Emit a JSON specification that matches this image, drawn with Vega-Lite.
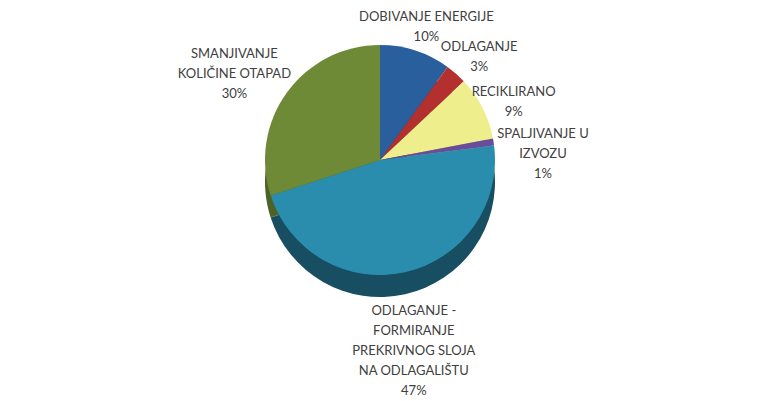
{
  "$schema": "https://vega.github.io/schema/vega-lite/v6.json",
  "autosize": {"type": "none"},
  "width": 760,
  "height": 320,
  "padding": {"left": 0, "top": 0, "right": 22, "bottom": 81},
  "background": "white",
  "view": {"stroke": null},
  "data": {
    "values": [
      {"k": 1, "cat": "DOBIVANJE ENERGIJE", "label": "DOBIVANJE ENERGIJE\n10%", "pct": 10},
      {"k": 2, "cat": "ODLAGANJE", "label": "ODLAGANJE\n3%", "pct": 3},
      {"k": 3, "cat": "RECIKLIRANO", "label": "RECIKLIRANO\n9%", "pct": 9},
      {"k": 4, "cat": "SPALJIVANJE U IZVOZU", "label": "SPALJIVANJE U\nIZVOZU\n1%", "pct": 1},
      {"k": 5, "cat": "ODLAGANJE - FORMIRANJE PREKRIVNOG SLOJA NA ODLAGALIŠTU", "label": "ODLAGANJE -\nFORMIRANJE\nPREKRIVNOG SLOJA\nNA ODLAGALIŠTU\n47%", "pct": 47},
      {"k": 6, "cat": "SMANJIVANJE KOLIČINE OTAPAD", "label": "SMANJIVANJE\nKOLIČINE OTAPAD\n30%", "pct": 30}
    ]
  },
  "encoding": {
    "theta": {"field": "pct", "type": "quantitative", "stack": true},
    "order": {"field": "k", "type": "quantitative"}
  },
  "layer": [
    {
      "mark": {"type": "arc", "outerRadius": 115, "yOffset": 22},
      "encoding": {
        "color": {
          "field": "cat",
          "type": "nominal",
          "legend": null,
          "scale": {
            "domain": ["DOBIVANJE ENERGIJE", "ODLAGANJE", "RECIKLIRANO", "SPALJIVANJE U IZVOZU", "ODLAGANJE - FORMIRANJE PREKRIVNOG SLOJA NA ODLAGALIŠTU", "SMANJIVANJE KOLIČINE OTAPAD"],
            "range": ["#1B3F6A", "#7A1F1E", "#A9A85E", "#47326A", "#174E62", "#4D6226"]
          }
        }
      }
    },
    {
      "mark": {"type": "arc", "outerRadius": 115},
      "encoding": {
        "color": {
          "field": "cat",
          "type": "nominal",
          "legend": null,
          "scale": {
            "domain": ["DOBIVANJE ENERGIJE", "ODLAGANJE", "RECIKLIRANO", "SPALJIVANJE U IZVOZU", "ODLAGANJE - FORMIRANJE PREKRIVNOG SLOJA NA ODLAGALIŠTU", "SMANJIVANJE KOLIČINE OTAPAD"],
            "range": ["#2A5F9E", "#B3302E", "#EFEE8C", "#6A4C9C", "#2A8DAE", "#6E8A36"]
          }
        }
      }
    },
    {
      "mark": {"type": "text", "radius": {"expr": "datum.k == 5 ? 155 : datum.k == 6 ? 180 : datum.k == 4 ? 165 : 150"}, "lineBreak": "\n", "font": "Lato", "fontSize": 13, "color": "#404040", "lineHeight": 20, "align": "center", "baseline": "middle"},
      "encoding": {"text": {"field": "label"}}
    }
  ],
  "resolve": {"scale": {"color": "independent"}}
}
